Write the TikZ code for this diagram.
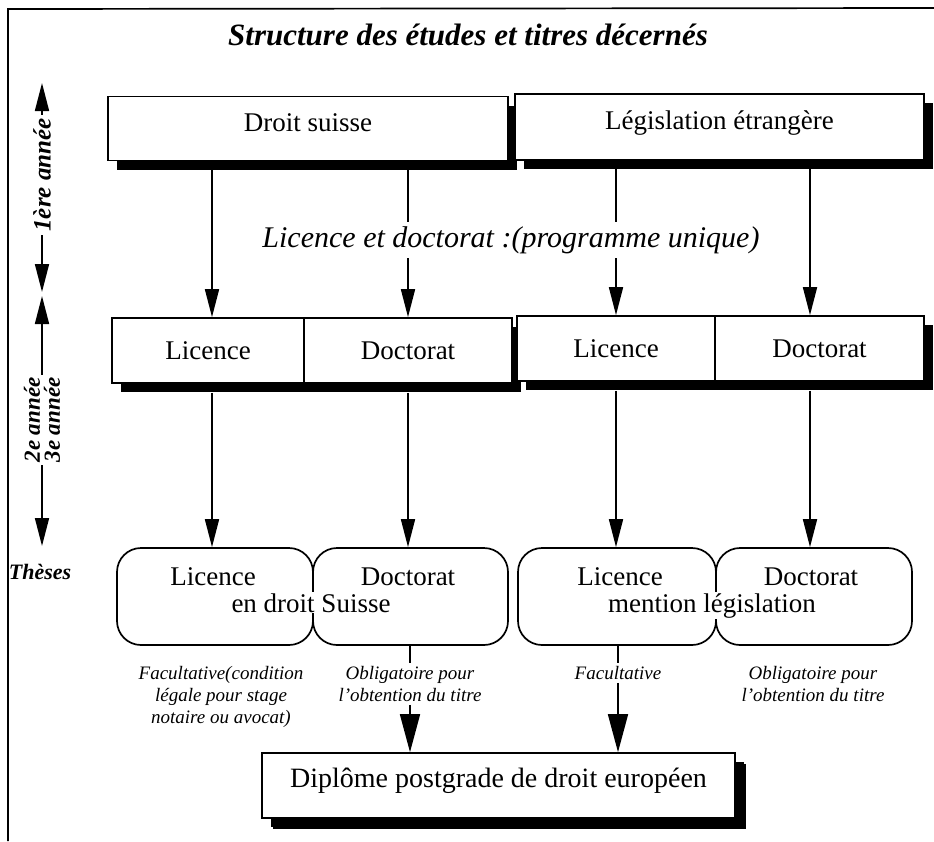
\documentclass[tikz,border=0pt]{standalone}
\usepackage{fontspec}
\setmainfont{Liberation Serif}
\usetikzlibrary{arrows.meta,shadows}
\tikzset{
  boxtext/.style={font=\fontsize{27}{30}\selectfont},
  sqbox/.style={draw, line width=1.7pt, fill=white, inner sep=0pt, boxtext,
    drop shadow={shadow xshift=9pt, shadow yshift=-9pt, opacity=1, fill=black}},
  toprow/.style={text height=15pt, text depth=10pt},
  midrow/.style={text height=21pt, text depth=4pt},
  rbox/.style={draw, line width=1.7pt, rounded corners=24pt, inner sep=0pt},
  arr/.style={line width=1.7pt, -{Triangle[length=28pt,width=14pt]}},
  bigarr/.style={line width=1.7pt, -{Triangle[length=38pt,width=20pt]}},
  plain/.style={line width=1.7pt},
  note/.style={align=center, inner sep=3pt, anchor=north, font=\itshape\fontsize{19}{22}\selectfont},
  axtext/.style={rotate=90, fill=white, inner sep=3pt, align=center, font=\bfseries\itshape\fontsize{25}{19}\selectfont},
}
\begin{document}
\begin{tikzpicture}[x=1pt,y=-1pt]
\useasboundingbox (0,0) rectangle (934,841);
% frame
\draw[plain] (8,841) -- (8,9) -- (934,8);
% title
\node[font=\bfseries\itshape\fontsize{31}{34}\selectfont] (title) at (468,35) {Structure des études et titres décernés};

% column coordinates
\coordinate (c1) at (212,0);
\coordinate (c2) at (408,0);
\coordinate (c3) at (616,0);
\coordinate (c4) at (810,0);

% top row
\node[sqbox, toprow, minimum width=400pt, minimum height=64pt] (droit) at (308,128.5) {Droit suisse};
\node[sqbox, toprow, minimum width=409pt, minimum height=66pt] (legis) at (719.5,127) {Législation étrangère};

% middle row
\node[sqbox, midrow, minimum width=192pt, minimum height=65pt] (licA) at (208,350.5) {Licence};
\node[sqbox, midrow, minimum width=208pt, minimum height=65pt] (docA) at (408,350.5) {Doctorat};
\node[sqbox, midrow, minimum width=198pt, minimum height=65pt] (licB) at (616,348.5) {Licence};
\node[sqbox, midrow, minimum width=209pt, minimum height=65pt] (docB) at (819.5,348.5) {Doctorat};

% arrows top -> middle
\draw[arr] (droit.south -| c1) -- (licA.north -| c1);
\draw[arr] (droit.south -| c2) -- (docA.north -| c2);
\draw[arr] (legis.south -| c3) -- (licB.north -| c3);
\draw[arr] (legis.south -| c4) -- (docB.north -| c4);
\node[fill=white, inner sep=4pt, font=\itshape\fontsize{30}{33}\selectfont] (prog) at (511,240) {Licence et doctorat :(programme unique)};

% rounded boxes
\node[rbox, minimum width=196pt, minimum height=97pt] (rA1) at (215,596.5) {};
\node[rbox, minimum width=195pt, minimum height=97pt] (rA2) at (410.5,596.5) {};
\node[rbox, minimum width=198pt, minimum height=97pt] (rB1) at (617,596.5) {};
\node[rbox, minimum width=196pt, minimum height=97pt] (rB2) at (814,596.5) {};
\node[boxtext, anchor=base] (tA1) at (213,585) {Licence};
\node[boxtext, anchor=base] (tA2) at (408,585) {Doctorat};
\node[boxtext, anchor=base, fill=white, inner sep=1pt] (tA) at (311,612) {en droit Suisse};
\node[boxtext, anchor=base] (tB1) at (620,585) {Licence};
\node[boxtext, anchor=base] (tB2) at (811,585) {Doctorat};
\node[boxtext, anchor=base, fill=white, inner sep=1pt] (tB) at (712,612) {mention législation};

% arrows middle -> rounded
\draw[arr] ([yshift=-9pt]licA.south -| c1) -- (rA1.north -| c1);
\draw[arr] ([yshift=-9pt]docA.south -| c2) -- (rA2.north -| c2);
\draw[arr] ([yshift=-9pt]licB.south -| c3) -- (rB1.north -| c3);
\draw[arr] ([yshift=-9pt]docB.south -| c4) -- (rB2.north -| c4);

% notes
\node[note] (n1) at (221,663) {Facultative(condition\\légale pour stage\\notaire ou avocat)};
\node[note] (n2) at (410,663) {Obligatoire pour\\l'obtention du titre};
\node[note] (n3) at (618,663) {Facultative};
\node[note] (n4) at (813,663) {Obligatoire pour\\l'obtention du titre};

% bottom box
\node[sqbox, text height=14pt, text depth=11pt, font=\fontsize{28}{30}\selectfont, minimum width=473pt, minimum height=65pt,
  drop shadow={shadow xshift=11pt, shadow yshift=-11pt, opacity=1, fill=black}] (dipl) at (498.5,785.5) {Diplôme postgrade de droit européen};

\draw[plain] (rA2.south -| n2) -- (n2.north);
\draw[bigarr] (n2.south) -- (dipl.north -| n2.south);
\draw[plain] (rB1.south -| n3) -- (n3.north);
\draw[bigarr] (n3.south) -- (dipl.north -| n3.south);

% left axis
\coordinate (a1t) at (42,83);
\coordinate (a1b) at (42,292);
\coordinate (a2t) at (42,296);
\coordinate (a2b) at (42,546);
\draw[line width=1.7pt, {Triangle[length=28pt,width=14pt]}-{Triangle[length=28pt,width=14pt]}] (a1t) -- (a1b);
\draw[line width=1.7pt, {Triangle[length=28pt,width=14pt]}-{Triangle[length=28pt,width=14pt]}] (a2t) -- (a2b);
\node[axtext] (y1) at (42,175) {1ère année};
\node[axtext, font=\bfseries\itshape\fontsize{23}{20}\selectfont] (y2) at (42,420) {2e année\\3e année};
\node[font=\bfseries\itshape\fontsize{22}{24}\selectfont] (these) at (40,572) {Thèses};
\end{tikzpicture}
\end{document}
